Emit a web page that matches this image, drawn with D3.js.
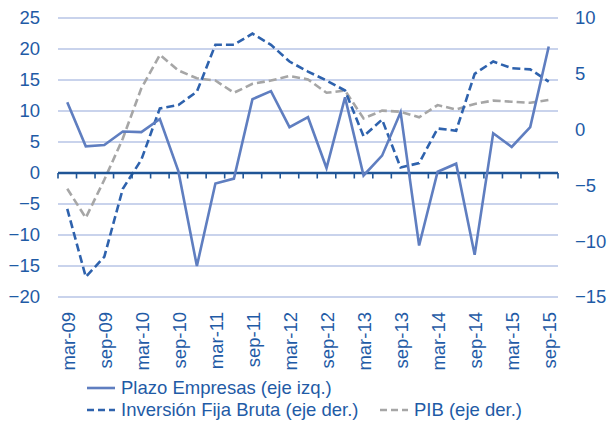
<!DOCTYPE html>
<html><head><meta charset="utf-8">
<script src="https://cdn.jsdelivr.net/npm/d3@7"></script>
<style>body{margin:0;background:#fff}svg{display:block}text{font-family:"Liberation Sans",Arial,sans-serif}</style>
</head><body>
<svg id="c" width="611" height="424"></svg>
<script>
const categories = ["mar-09","jun-09","sep-09","dic-09","mar-10","jun-10","sep-10","dic-10","mar-11","jun-11","sep-11","dic-11","mar-12","jun-12","sep-12","dic-12","mar-13","jun-13","sep-13","dic-13","mar-14","jun-14","sep-14","dic-14","mar-15","jun-15","sep-15"];
const plazoEmpresas = [11.4,4.3,4.5,6.7,6.6,8.7,0.3,-15.0,-1.7,-0.9,11.9,13.2,7.4,9.0,0.8,12.2,-0.4,2.8,9.8,-11.7,0.2,1.5,-13.2,6.4,4.2,7.4,20.4];
const inversionFijaBruta = [-7.1,-13.2,-11.4,-5.3,-2.7,1.9,2.2,3.4,7.6,7.6,8.6,7.6,6.1,5.2,4.4,3.5,-0.6,0.9,-3.4,-3.0,0.1,-0.1,5.0,6.1,5.5,5.4,4.3];
const pib = [-5.3,-7.9,-4.5,-0.8,3.7,6.7,5.3,4.6,4.4,3.3,4.1,4.4,4.8,4.5,3.3,3.5,1.0,1.7,1.6,1.1,2.2,1.8,2.3,2.6,2.5,2.4,2.65];
const leftTicks = [-20,-15,-10,-5,0,5,10,15,20,25];
const rightTicks = [-15,-10,-5,0,5,10];
const seriesNames = ["Plazo Empresas (eje izq.)","Inversión Fija Bruta (eje der.)","PIB (eje der.)"];

const textColor = "#1f5ba6";
const svg = d3.select("#c");
const x = d3.scaleBand().domain(categories).range([58,558]).padding(0);
const yL = d3.scaleLinear().domain([-20,25]).range([297,18]);
const yR = d3.scaleLinear().domain([-15,10]).range([297,18]);
const cx = d => x(d) + x.bandwidth()/2;

// gridlines
svg.append("g").selectAll("line").data(leftTicks.filter(t=>t!==0)).join("line")
  .attr("x1",58).attr("x2",558).attr("y1",d=>yL(d)).attr("y2",d=>yL(d))
  .attr("stroke","#b7c4e6").attr("stroke-width",1.3);

// left axis labels
const gl = svg.append("g").attr("transform","translate(58,0)")
  .call(d3.axisLeft(yL).tickValues(leftTicks).tickSize(0).tickPadding(18));
gl.select(".domain").remove();
gl.selectAll("text").attr("fill",textColor).style("font-size","18.5px").style("font-family","Liberation Sans, Arial, sans-serif");

// right axis labels
const gr = svg.append("g").attr("transform","translate(558,0)")
  .call(d3.axisRight(yR).tickValues(rightTicks).tickSize(0).tickPadding(17));
gr.select(".domain").remove();
gr.selectAll("text").attr("fill",textColor).style("font-size","18.5px").style("font-family","Liberation Sans, Arial, sans-serif");

// lines
const lineL = d3.line().x((d,i)=>cx(categories[i])).y(d=>yL(d));
const lineR = d3.line().x((d,i)=>cx(categories[i])).y(d=>yR(d));
svg.append("path").datum(pib).attr("d",lineR).attr("fill","none")
  .attr("stroke","#a6a6a6").attr("stroke-width",2.6).attr("stroke-dasharray","8,4");
svg.append("path").datum(inversionFijaBruta).attr("d",lineR).attr("fill","none")
  .attr("stroke","#2e62ad").attr("stroke-width",2.6).attr("stroke-dasharray","8,4");

// zero axis
svg.append("line").attr("x1",58).attr("x2",558).attr("y1",yL(0)).attr("y2",yL(0))
  .attr("stroke","#1f5596").attr("stroke-width",2.6);
const boundaries = categories.map(c=>x(c)).concat([x.range()[1]]);
svg.append("g").selectAll("line").data(boundaries).join("line")
  .attr("x1",d=>d).attr("x2",d=>d).attr("y1",yL(0)).attr("y2",yL(0)+5.5)
  .attr("stroke","#1f5596").attr("stroke-width",1.6);

svg.append("path").datum(plazoEmpresas).attr("d",lineL).attr("fill","none")
  .attr("stroke","#5f7ec0").attr("stroke-width",2.6).attr("stroke-linejoin","miter");

// x labels
const gx = svg.append("g").attr("transform","translate(1,312)")
  .call(d3.axisBottom(x).tickValues(categories.filter((d,i)=>i%2===0)).tickSize(0).tickPadding(0));
gx.select(".domain").remove();
gx.selectAll("text").attr("fill",textColor).style("font-size","18.5px").style("font-family","Liberation Sans, Arial, sans-serif")
  .attr("transform","rotate(-90)").attr("text-anchor","end").attr("x",0).attr("y",0).attr("dy","0.35em");

// legend
const legendItems = [
  {name:seriesNames[0], color:"#5f7ec0", dash:null, lx:87, ly:388},
  {name:seriesNames[1], color:"#2e62ad", dash:"7,4", lx:87, ly:410},
  {name:seriesNames[2], color:"#a6a6a6", dash:"7,4", lx:380, ly:410}
];
const lg = svg.append("g").selectAll("g").data(legendItems).join("g");
lg.append("line").attr("x1",d=>d.lx).attr("x2",d=>d.lx+28).attr("y1",d=>d.ly).attr("y2",d=>d.ly)
  .attr("stroke",d=>d.color).attr("stroke-width",2.6).attr("stroke-dasharray",d=>d.dash);
lg.append("text").attr("x",d=>d.lx+34).attr("y",d=>d.ly).attr("dy","0.35em")
  .attr("fill",textColor).style("font-size","18.5px").text(d=>d.name);
</script>
</body></html>
